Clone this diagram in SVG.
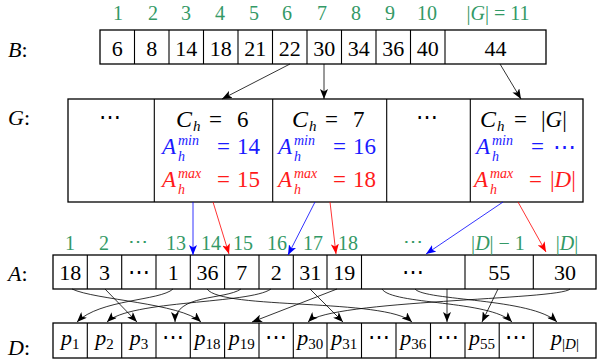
<svg xmlns="http://www.w3.org/2000/svg" width="598" height="362" viewBox="0 0 598 362">
<style>
text{font-family:"Liberation Serif","DejaVu Serif",serif}
.t{font-size:22px;fill:#000}
.gt{font-size:23px}
.m{text-anchor:middle}
.i{font-style:italic}
.s{font-size:15px}
.u{font-size:14px}
.g{fill:#339966;font-size:20px}
.b{fill:#1a1aff}
.r{fill:#ff1a1a}
.box{fill:#fff;stroke:#000;stroke-width:1.3}
.dv{stroke:#000;stroke-width:1.1}
.k{fill:none;stroke:#000;stroke-width:0.8}
.bl{fill:none;stroke:#0000ff;stroke-width:0.8}
.rl{fill:none;stroke:#ff0000;stroke-width:0.8}
</style>
<defs>
<marker id="ak" viewBox="0 0 10 8" refX="10" refY="4" markerWidth="10" markerHeight="8" markerUnits="userSpaceOnUse" orient="auto"><path d="M0,0 L10,4 L0,8 L2.5,4 z" fill="#000"/></marker>
<marker id="ab" viewBox="0 0 10 8" refX="10" refY="4" markerWidth="10" markerHeight="8" markerUnits="userSpaceOnUse" orient="auto"><path d="M0,0 L10,4 L0,8 L2.5,4 z" fill="#0000ff"/></marker>
<marker id="ar" viewBox="0 0 10 8" refX="10" refY="4" markerWidth="10" markerHeight="8" markerUnits="userSpaceOnUse" orient="auto"><path d="M0,0 L10,4 L0,8 L2.5,4 z" fill="#ff0000"/></marker>
</defs>
<rect width="598" height="362" fill="#fff"/>

<!-- Row labels -->
<g id="labels">
<text class="t i" x="8" y="57">B<tspan font-style="normal">:</tspan></text>
<text class="t i" x="8" y="125">G<tspan font-style="normal">:</tspan></text>
<text class="t i" x="8" y="281">A<tspan font-style="normal">:</tspan></text>
<text class="t i" x="8" y="355">D<tspan font-style="normal">:</tspan></text>
</g>

<!-- B array -->
<g id="B">
<rect class="box" x="100" y="30" width="446" height="34"/>
<path class="dv" d="M134.5,30V64M169,30V64M203.5,30V64M238,30V64M272.5,30V64M307,30V64M341.5,30V64M376,30V64M410.5,30V64M445,30V64"/>
<g class="t m">
<text x="117.3" y="55.5">6</text><text x="151.8" y="55.5">8</text><text x="186.3" y="55.5">14</text><text x="220.8" y="55.5">18</text><text x="255.3" y="55.5">21</text><text x="289.8" y="55.5">22</text><text x="324.3" y="55.5">30</text><text x="358.8" y="55.5">34</text><text x="393.3" y="55.5">36</text><text x="427.8" y="55.5">40</text><text x="495.5" y="55.5">44</text>
</g>
<g class="t m g">
<text x="118" y="20">1</text><text x="153" y="20">2</text><text x="186" y="20">3</text><text x="220" y="20">4</text><text x="254" y="20">5</text><text x="287" y="20">6</text><text x="322" y="20">7</text><text x="356" y="20">8</text><text x="390" y="20">9</text><text x="427" y="20">10</text>
<text x="498" y="20">|<tspan font-style="italic">G</tspan>| = 11</text>
</g>
</g>

<!-- G array -->
<g id="G">
<rect class="box" x="68" y="99" width="515" height="103"/>
<path class="dv" d="M154.3,99V202M272.7,99V202M386.7,99V202M470.3,99V202"/>
<text class="t m" x="110" y="124">⋯</text>
<text class="t m" x="427" y="124">⋯</text>
</g>

<g id="G-cell-6">
<text class="t gt" y="127"><tspan class="i" font-size="24" x="176">C</tspan><tspan class="s i" x="193" dy="4">h</tspan><tspan x="209" dy="-4">=</tspan><tspan x="237">6</tspan></text>
<text class="t gt b" y="154"><tspan class="i" x="162">A</tspan><tspan class="u i" x="178" dy="-9">min</tspan><tspan class="u i" x="178" dy="16">h</tspan><tspan x="217" dy="-7">=</tspan><tspan x="237">14</tspan></text>
<text class="t gt r" y="187"><tspan class="i" x="162">A</tspan><tspan class="u i" x="178" dy="-9">max</tspan><tspan class="u i" x="178" dy="16">h</tspan><tspan x="217" dy="-7">=</tspan><tspan x="237">15</tspan></text>
</g>
<g id="G-cell-7">
<text class="t gt" y="127"><tspan class="i" font-size="24" x="292">C</tspan><tspan class="s i" x="309" dy="4">h</tspan><tspan x="325" dy="-4">=</tspan><tspan x="353">7</tspan></text>
<text class="t gt b" y="154"><tspan class="i" x="278">A</tspan><tspan class="u i" x="294" dy="-9">min</tspan><tspan class="u i" x="294" dy="16">h</tspan><tspan x="333" dy="-7">=</tspan><tspan x="353">16</tspan></text>
<text class="t gt r" y="187"><tspan class="i" x="278">A</tspan><tspan class="u i" x="294" dy="-9">max</tspan><tspan class="u i" x="294" dy="16">h</tspan><tspan x="333" dy="-7">=</tspan><tspan x="353">18</tspan></text>
</g>
<g id="G-cell-G">
<text class="t gt" y="127"><tspan class="i" font-size="24" x="480">C</tspan><tspan class="s i" x="497" dy="4">h</tspan><tspan x="514" dy="-4">=</tspan><tspan x="541">|</tspan><tspan class="i">G</tspan><tspan>|</tspan></text>
<text class="t gt b" y="154"><tspan class="i" x="476">A</tspan><tspan class="u i" x="492" dy="-9">min</tspan><tspan class="u i" x="492" dy="16">h</tspan><tspan x="531" dy="-7">=</tspan><tspan x="553">⋯</tspan></text>
<text class="t gt r" y="187"><tspan class="i" x="474">A</tspan><tspan class="u i" x="490" dy="-9">max</tspan><tspan class="u i" x="490" dy="16">h</tspan><tspan x="529" dy="-7">=</tspan><tspan x="550">|</tspan><tspan class="i">D</tspan><tspan>|</tspan></text>
</g>

<!-- A array -->
<g id="A">
<rect class="box" x="53" y="255" width="543" height="34"/>
<path class="dv" d="M87.3,255V289M121.7,255V289M156,255V289M190.3,255V289M224.6,255V289M259,255V289M293.3,255V289M327,255V289M361.5,255V289M465,255V289M533.3,255V289"/>
<g class="t m">
<text x="70.2" y="280">18</text><text x="104.5" y="280">3</text><text x="138.9" y="279">⋯</text><text x="173.2" y="280">1</text><text x="207.5" y="280">36</text><text x="241.8" y="280">7</text><text x="276.2" y="280">2</text><text x="310.2" y="280">31</text><text x="344.3" y="280">19</text><text x="413.3" y="279">⋯</text><text x="499.2" y="280">55</text><text x="564.9" y="280">30</text>
</g>
<g class="t m g">
<text x="70" y="250">1</text><text x="104" y="250">2</text><text x="138" y="248">⋯</text><text x="176" y="250">13</text><text x="211" y="250">14</text><text x="243" y="250">15</text><text x="277" y="250">16</text><text x="313" y="250">17</text><text x="348" y="250">18</text><text x="413" y="248">⋯</text>
<text x="498" y="250">|<tspan font-style="italic">D</tspan>| − 1</text>
<text x="567" y="250">|<tspan font-style="italic">D</tspan>|</text>
</g>
</g>

<!-- D array -->
<g id="D">
<rect class="box" x="53" y="323" width="543" height="35"/>
<path class="dv" d="M87.3,323V358M121.7,323V358M156,323V358M190.3,323V358M224.6,323V358M259,323V358M293.3,323V358M327,323V358M361.5,323V358M396,323V358M430.5,323V358M465,323V358M499.2,323V358M533.3,323V358"/>
<g class="t m">
<text class="i" x="70.2" y="345">p<tspan class="s" font-style="normal" dy="4">1</tspan></text>
<text class="i" x="104.5" y="345">p<tspan class="s" font-style="normal" dy="4">2</tspan></text>
<text class="i" x="138.9" y="345">p<tspan class="s" font-style="normal" dy="4">3</tspan></text>
<text x="173.2" y="344">⋯</text>
<text class="i" x="207.5" y="345">p<tspan class="s" font-style="normal" dy="4">18</tspan></text>
<text class="i" x="241.8" y="345">p<tspan class="s" font-style="normal" dy="4">19</tspan></text>
<text x="276.2" y="344">⋯</text>
<text class="i" x="310.2" y="345">p<tspan class="s" font-style="normal" dy="4">30</tspan></text>
<text class="i" x="344.3" y="345">p<tspan class="s" font-style="normal" dy="4">31</tspan></text>
<text x="378.7" y="344">⋯</text>
<text class="i" x="413.3" y="345">p<tspan class="s" font-style="normal" dy="4">36</tspan></text>
<text x="447.7" y="344">⋯</text>
<text class="i" x="482.1" y="345">p<tspan class="s" font-style="normal" dy="4">55</tspan></text>
<text x="516.2" y="344">⋯</text>
<text class="i" x="565" y="345">p<tspan class="s" font-style="normal" dy="4">|<tspan font-style="italic">D</tspan>|</tspan></text>
</g>
</g>

<!-- Connectors -->
<g id="connectors">
<path class="k" marker-end="url(#ak)" d="M290,64L222,99"/>
<path class="k" marker-end="url(#ak)" d="M324,64L324,99"/>
<path class="k" marker-end="url(#ak)" d="M500,64L521,99"/>

<path class="bl" marker-end="url(#ab)" d="M193,202L193,255"/>
<path class="rl" marker-end="url(#ar)" d="M213,202L229,254"/>
<path class="bl" marker-end="url(#ab)" d="M315,202L288,255"/>
<path class="rl" marker-end="url(#ar)" d="M330,202L336,254"/>
<path class="bl" marker-end="url(#ab)" d="M503,202L426,254"/>
<path class="rl" marker-end="url(#ar)" d="M518,202L546,252"/>

<path class="k" marker-end="url(#ak)" d="M72,289C95,300 180,303 201,322"/>
<path class="k" marker-end="url(#ak)" d="M105,289L137,322"/>
<path class="k" marker-end="url(#ak)" d="M173,289C160,301 100,299 77,322"/>
<path class="k" marker-end="url(#ak)" d="M207,289C222,310 385,298 412,322"/>
<path class="k" marker-end="url(#ak)" d="M241,289C225,300 175,294 175,322"/>
<path class="k" marker-end="url(#ak)" d="M271,289C250,304 130,300 107,322"/>
<path class="k" marker-end="url(#ak)" d="M310,289L343,322"/>
<path class="k" marker-end="url(#ak)" d="M337,289L252,322"/>
<path class="k" marker-end="url(#ak)" d="M382,289C392,305 490,300 512,322"/>
<path class="k" marker-end="url(#ak)" d="M415,289C425,301 532,298 557,322"/>
<path class="k" marker-end="url(#ak)" d="M447,289L447,322"/>
<path class="k" marker-end="url(#ak)" d="M498,289L482,322"/>
<path class="k" marker-end="url(#ak)" d="M570,289C560,300 330,300 308,322"/>
</g>
</svg>
